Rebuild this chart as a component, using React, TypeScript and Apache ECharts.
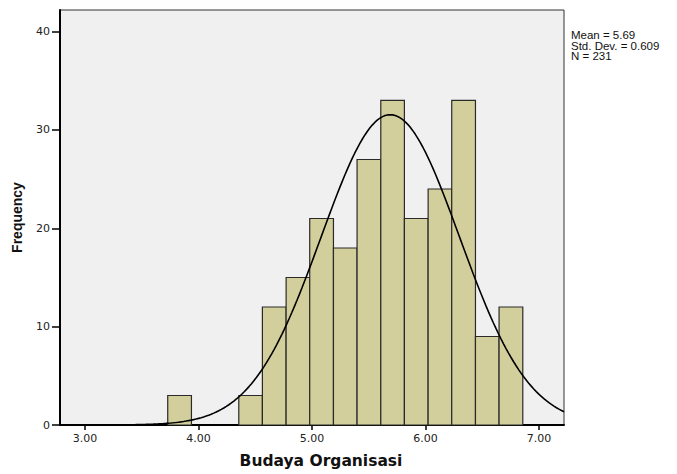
import React, { useEffect, useRef } from "react";
import * as echarts from "echarts";

// Histogram bins (Budaya Organisasi)
const binEdges = [3.729, 3.938, 4.146, 4.355, 4.563, 4.772, 4.98, 5.189, 5.397, 5.606, 5.814, 6.023, 6.231, 6.44, 6.648, 6.857];
const binCounts = [3, 0, 0, 3, 12, 15, 21, 18, 27, 33, 21, 24, 33, 9, 12];

// Summary statistics shown in the legend
const statMean = 5.69;
const statSD = 0.609;
const statN = 231;

// Axis ticks
const xTicks = [3, 4, 5, 6, 7];
const yTicks = [0, 10, 20, 30, 40];
const xRange = [2.78, 7.22];
const yRange = [0, 42.2];

// Fitted normal curve derived from mean / SD / N and the bin width
const binWidth = (binEdges[binEdges.length - 1] - binEdges[0]) / binCounts.length;
const curveSteps = 200;
const normalCurve: number[][] = [];
for (let i = 0; i <= curveSteps; i++) {
  const x = xRange[0] + ((xRange[1] - xRange[0]) * i) / curveSteps;
  const z = (x - statMean) / statSD;
  const y = (statN * binWidth) / (statSD * Math.sqrt(2 * Math.PI)) * Math.exp(-0.5 * z * z);
  normalCurve.push([x, y]);
}

const barData = binCounts.map((c, i) => [binEdges[i], binEdges[i + 1], c]);

export default function App() {
  const ref = useRef<HTMLDivElement>(null);
  useEffect(() => {
    if (!ref.current) return;
    const chart = echarts.init(ref.current, null, { renderer: "svg" });
    const font = "'Liberation Sans', Arial, sans-serif";
    const wide = "'DejaVu Sans', Verdana, sans-serif";
    chart.setOption({
      animation: false,
      backgroundColor: "#ffffff",
      grid: { left: 60, top: 10, right: 113, bottom: 46, show: true, backgroundColor: "#f0f0f0", borderColor: "#333", borderWidth: 1 },
      xAxis: {
        type: "value",
        min: xRange[0],
        max: xRange[1],
        splitLine: { show: false },
        axisLine: { show: true, onZero: false, lineStyle: { color: "#000", width: 2 } },
        axisTick: { show: true, length: 5, lineStyle: { color: "#000", width: 1.5 }, customValues: xTicks },
        axisLabel: {
          customValues: xTicks,
          formatter: (v: number) => v.toFixed(2),
          color: "#222",
          fontSize: 11,
          fontFamily: wide,
          margin: 8,
        },
        name: "Budaya Organisasi",
        nameLocation: "middle",
        nameGap: 28,
        nameTextStyle: { fontSize: 15.5, fontWeight: "bold", color: "#111", fontFamily: wide, padding: [0, 0, 0, 18] },
      },
      yAxis: {
        type: "value",
        min: yRange[0],
        max: yRange[1],
        splitLine: { show: false },
        axisLine: { show: true, lineStyle: { color: "#000", width: 2 } },
        axisTick: { show: true, length: 8, lineStyle: { color: "#000", width: 1.5 }, customValues: yTicks },
        axisLabel: { customValues: yTicks, color: "#222", fontSize: 11, fontFamily: wide, margin: 10 },
        name: "Frequency",
        nameLocation: "middle",
        nameGap: 36,
        nameTextStyle: { fontSize: 14, fontWeight: "bold", color: "#111", fontFamily: font },
      },
      series: [
        {
          type: "custom",
          data: barData,
          encode: { x: [0, 1], y: 2 },
          renderItem: (params: any, api: any) => {
            const count = api.value(2);
            if (!count) return null;
            const p0 = api.coord([api.value(0), count]);
            const p1 = api.coord([api.value(1), 0]);
            return {
              type: "rect",
              shape: { x: p0[0], y: p0[1], width: p1[0] - p0[0], height: p1[1] - p0[1] },
              style: { fill: "#d3cf9c", stroke: "#2a2a2a", lineWidth: 1.2 },
            };
          },
          z: 2,
        },
        {
          type: "line",
          data: normalCurve,
          showSymbol: false,
          symbol: "none",
          smooth: false,
          lineStyle: { color: "#000", width: 1.6 },
          z: 3,
        },
      ],
      graphic: [
        {
          type: "text",
          left: 571,
          top: 29,
          style: {
            text: `Mean = ${statMean.toFixed(2)}\nStd. Dev. = ${statSD.toFixed(3)}\nN = ${statN}`,
            fontSize: 11.5,
            lineHeight: 10.5,
            fontFamily: font,
            fill: "#111",
          },
        },
      ],
    });
    return () => chart.dispose();
  }, []);
  return <div ref={ref} style={{ position: "fixed", left: 0, top: 0, width: 677, height: 474 }} />;
}
